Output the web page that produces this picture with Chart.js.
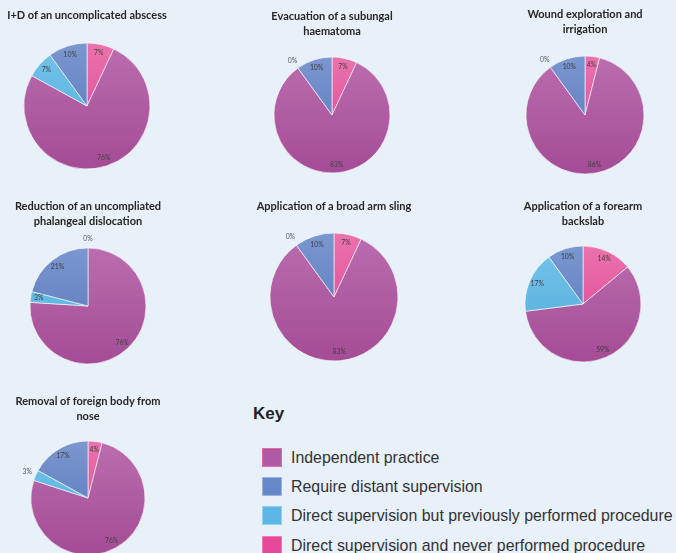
<!DOCTYPE html>
<html>
<head>
<meta charset="utf-8">
<script src="https://cdn.jsdelivr.net/npm/chart.js@4.4.1/dist/chart.umd.min.js"></script>
<style>
  html, body { margin: 0; padding: 0; }
  body { width: 676px; height: 553px; background: #e8f0f9; position: relative; overflow: hidden; }
  .pie { position: absolute; }
  .ttl { position: absolute; width: 220px; text-align: center; font-family: Lato, "Open Sans", sans-serif; font-weight: bold; font-size: 11px; line-height: 14.5px; color: #262626; }
  .key { position: absolute; left: 253px; top: 404px; font-family: "Liberation Sans", Arial, sans-serif; font-weight: bold; font-size: 17px; color: #222; }
  .item { position: absolute; left: 262px; height: 20px; font-family: "Liberation Sans", Arial, sans-serif; font-size: 15.9px; color: #333; white-space: nowrap; }
  .sw { position: absolute; left: 0; top: 0; width: 18px; height: 17px; border: 1px solid; }
  .lbl { position: absolute; left: 29px; top: 0; line-height: 19px; }
</style>
</head>
<body>
<script>
// ---- data ----
const procedures = [
  ['I+D of an uncomplicated abscess'],
  ['Evacuation of a subungal', 'haematoma'],
  ['Wound exploration and', 'irrigation'],
  ['Reduction of an uncompliated', 'phalangeal dislocation'],
  ['Application of a broad arm sling'],
  ['Application of a forearm', 'backslab'],
  ['Removal of foreign body from', 'nose']
];
const categories = [
  'Independent practice',
  'Require distant supervision',
  'Direct supervision but previously performed procedure',
  'Direct supervision and never performed procedure'
];
const independent    = [76, 83, 86, 76, 83, 59, 76];
const distant        = [10, 10, 10, 21, 10, 10, 17];
const directPrev     = [7, 0, 0, 3, 0, 17, 3];
const neverPerformed = [7, 7, 4, 0, 7, 14, 4];

// ---- layout / style (not data) ----
const layout = [
  { cx: 87,  cy: 106, r: 63, ty: 8,   out: [] },
  { cx: 332, cy: 115, r: 58, ty: 9,   out: [] },
  { cx: 585, cy: 115, r: 59, ty: 7,   out: [] },
  { cx: 88,  cy: 306, r: 58, ty: 199, out: [] },
  { cx: 334, cy: 297, r: 64, ty: 199, out: [] },
  { cx: 583, cy: 304, r: 58, ty: 199, out: [] },
  { cx: 88,  cy: 498, r: 57, ty: 394, out: [2] }
];
// colours for: independent, distant, directPrev, never
const catColors = ['#af5aa5', '#6788c6', '#5cb7e4', '#e6489a'];
const catBorders = ['#e8699f', '#9db3df', '#94d1ee', '#ee7db6'];
const gradTop = { never: '#ea73ad', independent: '#ba6dae', directPrev: '#76c4ea', distant: '#7b97d0' };
const gradBot = { never: '#de3d8e', independent: '#a44c96', directPrev: '#4caadb', distant: '#5272b9' };
const sliceKeys = ['never', 'independent', 'directPrev', 'distant'];

const labelPlugin = {
  id: 'pctLabels',
  afterDatasetsDraw(chart, args, opts) {
    const ctx = chart.ctx;
    const meta = chart.getDatasetMeta(0);
    const ds = chart.data.datasets[0];
    ctx.save();
    ctx.font = '6.8px Lato, "Open Sans", sans-serif';
    ctx.textAlign = 'center';
    ctx.textBaseline = 'middle';
    meta.data.forEach((arc, i) => {
      const p = arc.getProps(['x', 'y', 'startAngle', 'endAngle', 'outerRadius'], true);
      const v = ds.data[i];
      const mid = (p.startAngle + p.endAngle) / 2;
      const outside = v === 0 || opts.out.includes(i);
      const d = outside ? p.outerRadius * 1.16 : p.outerRadius * 0.86;
      ctx.fillStyle = outside ? '#595959' : '#404040';
      ctx.fillText(v + '%', p.x + Math.cos(mid) * d, p.y + Math.sin(mid) * d);
    });
    ctx.restore();
  }
};

procedures.forEach((title, k) => {
  const L = layout[k];
  const S = 2 * L.r + 50;
  const c = document.createElement('canvas');
  c.className = 'pie';
  c.width = S; c.height = S;
  c.style.width = S + 'px'; c.style.height = S + 'px';
  c.style.left = (L.cx - S / 2) + 'px';
  c.style.top = (L.cy - S / 2) + 'px';
  document.body.appendChild(c);

  const t = document.createElement('div');
  t.className = 'ttl';
  t.style.left = (L.cx - 110) + 'px';
  t.style.top = L.ty + 'px';
  t.innerHTML = title.join('<br>');
  document.body.appendChild(t);

  const values = [neverPerformed[k], independent[k], directPrev[k], distant[k]];
  new Chart(c, {
    type: 'pie',
    data: {
      labels: [categories[3], categories[0], categories[2], categories[1]],
      datasets: [{
        data: values,
        radius: L.r,
        borderWidth: 0.8,
        borderColor: 'rgba(255,255,255,0.75)',
        backgroundColor: (ctx) => {
          const ch = ctx.chart;
          const key = sliceKeys[ctx.dataIndex];
          const cy = ch.height / 2;
          const g = ch.ctx.createLinearGradient(0, cy - L.r, 0, cy + L.r);
          g.addColorStop(0, gradTop[key]);
          g.addColorStop(1, gradBot[key]);
          return g;
        }
      }]
    },
    options: {
      responsive: false,
      animation: false,
      events: [],
      layout: { padding: 0 },
      plugins: {
        legend: { display: false },
        tooltip: { enabled: false },
        pctLabels: { out: L.out }
      }
    },
    plugins: [labelPlugin]
  });
});

// key
const key = document.createElement('div');
key.className = 'key';
key.textContent = 'Key';
document.body.appendChild(key);
const itemTops = [448, 477, 506, 536];
categories.forEach((name, i) => {
  const it = document.createElement('div');
  it.className = 'item';
  it.style.top = itemTops[i] + 'px';
  it.innerHTML = '<div class="sw" style="background:' + catColors[i] + ';border-color:' + catBorders[i] + '"></div><div class="lbl"></div>';
  it.querySelector('.lbl').textContent = name;
  document.body.appendChild(it);
});
</script>
</body>
</html>
